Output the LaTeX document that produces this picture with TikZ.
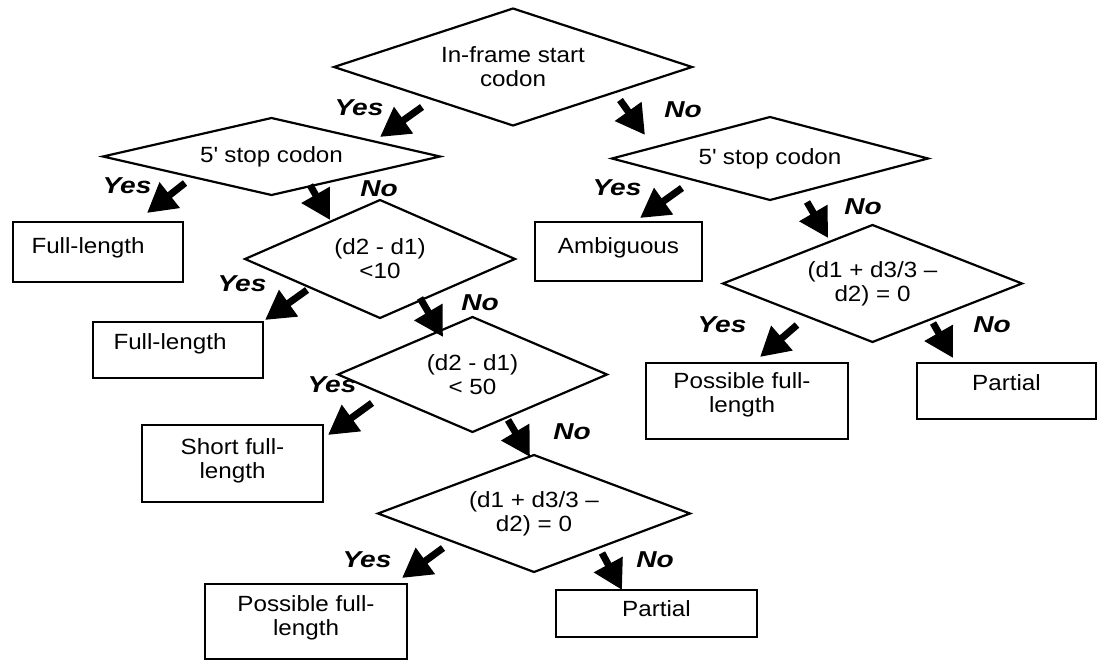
\documentclass[tikz,border=0pt]{standalone}
\usepackage{fontspec}
\setmainfont{Liberation Sans}[FakeStretch=1.1]
\newfontfamily\tagfont{Liberation Sans}[FakeStretch=1.22]
\usetikzlibrary{shapes.geometric,arrows.meta}

\tikzset{
  every node/.style={font=\fontsize{22}{24}\selectfont},
  decision/.style 2 args={draw, diamond, aspect=3, line width=2.2pt,
    inner sep=0pt, outer sep=0pt, align=center,
    minimum width=#1pt, minimum height=#2pt},
  outcome/.style 2 args={draw, rectangle, line width=2.2pt,
    inner sep=0pt, outer sep=0pt,
    minimum width=#1pt, minimum height=#2pt},
  btext/.style={align=center, inner sep=0pt},
  tag/.style={font=\tagfont\fontsize{23}{25}\selectfont\bfseries\itshape, inner sep=0pt},
  bigarrow/.style={line width=7pt, -{Triangle[length=29pt,width=31pt]}}
}

\begin{document}
\begin{tikzpicture}[x=1pt,y=-1pt]
\useasboundingbox (0,0) rectangle (1097,661);

% decisions
\node[decision={358}{117}] (d1) at (513,67) {In-frame start\\codon};
\node[decision={337}{77}]  (d2) at (271.5,156.5) {5\textquotesingle\ stop codon};
\node[decision={270}{118}] (d3) at (380,259) {(d2 - d1)\\<10};
\node[decision={269}{115}] (d4) at (472.5,374.5) {(d2 - d1)\\< 50};
\node[decision={312}{117}] (d5) at (534,513.5) {(d1 + d3/3 –\\d2) = 0};
\node[decision={316}{83}]  (d6) at (770,158.5) {5\textquotesingle\ stop codon};
\node[decision={299}{117}] (d7) at (872.5,283.5) {(d1 + d3/3 –\\d2) = 0};

% outcomes
\node[outcome={170}{60}, label={[btext,name=t1,xshift=-10pt,yshift=4pt]center:Full-length}] (b1) at (98,252) {};
\node[outcome={170}{56}, label={[btext,name=t2,xshift=-8pt,yshift=6pt]center:Full-length}] (b2) at (178,350) {};
\node[outcome={181}{77}, label={[btext,name=t3,yshift=3pt]center:Short full-\\length}] (b3) at (232.5,463.5) {};
\node[outcome={202}{75}, label={[btext,name=t4,yshift=4pt]center:Possible full-\\length}] (b4) at (306,621.5) {};
\node[outcome={201}{47}, label={[btext,name=t5,yshift=5pt]center:Partial}] (b5) at (656.5,613.5) {};
\node[outcome={167}{59}, label={[btext,name=t6,yshift=4pt]center:Ambiguous}] (b6) at (618.5,251.5) {};
\node[outcome={202}{76}, label={[btext,name=t7,xshift=-5pt,yshift=6pt]center:Possible full-\\length}] (b7) at (747,401) {};
\node[outcome={179}{56}, label={[btext,name=t8,yshift=8pt]center:Partial}] (b8) at (1006.5,391) {};

% arrow ends
\coordinate (a1s) at (422,107);  \coordinate (a1e) at (380,137);
\coordinate (a2s) at (620,100);  \coordinate (a2e) at (645,135);
\coordinate (a3s) at (185,183);  \coordinate (a3e) at (147,213);
\coordinate (a4s) at (310,185);  \coordinate (a4e) at (330,220);
\coordinate (a5s) at (307,290);  \coordinate (a5e) at (265,320);
\coordinate (a6s) at (420,298);  \coordinate (a6e) at (443,337);
\coordinate (a7s) at (372,403);  \coordinate (a7e) at (328,435);
\coordinate (a8s) at (508,420);  \coordinate (a8e) at (530,457);
\coordinate (a9s) at (443,548);  \coordinate (a9e) at (402,578);
\coordinate (a10s) at (602,553); \coordinate (a10e) at (622,590);
\coordinate (a11s) at (682,188); \coordinate (a11e) at (640,218);
\coordinate (a12s) at (807,202); \coordinate (a12e) at (828,238);
\coordinate (a13s) at (797,325); \coordinate (a13e) at (760,357);
\coordinate (a14s) at (933,323); \coordinate (a14e) at (953,358);

\foreach \i in {1,...,14} \draw[bigarrow] (a\i s) -- (a\i e);

% branch tags
\node[tag] (y1) at (359,108) {Yes};  \node[tag] (n1) at (683,110) {No};
\node[tag] (y2) at (127,186) {Yes};  \node[tag] (n2) at (379,189) {No};
\node[tag] (y3) at (242,284) {Yes};  \node[tag] (n3) at (480,303) {No};
\node[tag] (y4) at (332,385) {Yes};  \node[tag] (n4) at (572,432) {No};
\node[tag] (y5) at (367,560) {Yes};  \node[tag] (n5) at (655,560) {No};
\node[tag] (y6) at (617,188) {Yes};  \node[tag] (n6) at (863,207) {No};
\node[tag] (y7) at (722,325) {Yes};  \node[tag] (n7) at (992,325) {No};
\end{tikzpicture}
\end{document}
